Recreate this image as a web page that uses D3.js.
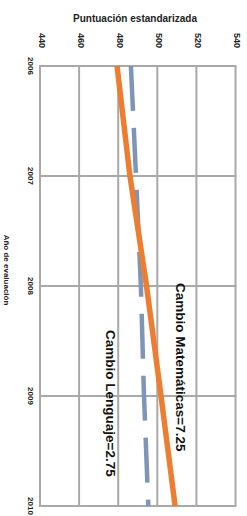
<!DOCTYPE html>
<html>
<head>
<meta charset="utf-8">
<script src="https://cdn.jsdelivr.net/npm/d3@7/dist/d3.min.js"></script>
<style>
  html, body { margin: 0; padding: 0; background: #ffffff; }
  svg { display: block; font-family: "Liberation Sans", Arial, sans-serif; }
</style>
</head>
<body>
<svg id="chart" width="247" height="516"></svg>
<script>
// ---- data ----
const years = [2006, 2007, 2008, 2009, 2010];
const matematicas = [479.4, 486.0, 494.5, 501.9, 509.1];
const lenguaje = [486.5, 489.1, 491.6, 493.2, 495.4];
const scoreTicks = [440, 460, 480, 500, 520, 540];
const yearTicks = ["2006", "2007", "2008", "2009", "2010"];
const titleScore = "Puntuación estandarizada";
const titleYear = "Año de evaluación";
const labelMat = "Cambio Matemáticas=7.25";
const labelLen = "Cambio Lenguaje=2.75";

// ---- layout (chart rotated 90° clockwise) ----
const svg = d3.select("#chart");
const plotLeft = 40, plotRight = 235.5, plotTop = 66, plotBottom = 506;

const x = d3.scaleLinear().domain([440, 540]).range([plotLeft, plotRight]);
const y = d3.scaleLinear().domain([2006, 2010]).range([plotTop, plotBottom]);

const gridColor = "#a9a9a9";

// vertical gridlines (score)
svg.append("g").selectAll("line").data(scoreTicks).join("line")
  .attr("x1", d => x(d)).attr("x2", d => x(d))
  .attr("y1", plotTop).attr("y2", plotBottom)
  .attr("stroke", gridColor).attr("stroke-width", 2);

// horizontal gridlines (years)
svg.append("g").selectAll("line").data(years).join("line")
  .attr("x1", plotLeft - 1).attr("x2", plotRight + 1)
  .attr("y1", d => y(d)).attr("y2", d => y(d))
  .attr("stroke", gridColor).attr("stroke-width", 2);

// score tick labels at top, rotated
svg.append("g").selectAll("text").data(scoreTicks).join("text")
  .attr("transform", d => `translate(${x(d) + 1.5},33) rotate(90)`)
  .attr("text-anchor", "start")
  .attr("dominant-baseline", "central")
  .attr("font-size", 9)
  .attr("font-weight", "bold")
  .attr("fill", "#222")
  .text(d => d);

// year tick labels on the left, rotated
svg.append("g").selectAll("text").data(years).join("text")
  .attr("transform", d => `translate(30,${y(d)}) rotate(90)`)
  .attr("text-anchor", "middle")
  .attr("dominant-baseline", "central")
  .attr("font-size", 8)
  .attr("font-weight", "bold")
  .attr("fill", "#222")
  .text((d, i) => yearTicks[i]);

// axis titles
svg.append("text")
  .attr("x", 135).attr("y", 18)
  .attr("text-anchor", "middle")
  .attr("dominant-baseline", "central")
  .attr("font-size", 10)
  .attr("font-weight", "bold")
  .attr("fill", "#222")
  .text(titleScore);

svg.append("text")
  .attr("transform", "translate(6,270) rotate(90)")
  .attr("text-anchor", "middle")
  .attr("dominant-baseline", "central")
  .attr("font-size", 8)
  .attr("font-weight", "bold")
  .attr("fill", "#222")
  .text(titleYear);

// lines
const line = d3.line().x(d => x(d[1])).y(d => y(d[0]));

svg.append("path")
  .datum(years.map((yr, i) => [yr, lenguaje[i]]))
  .attr("d", line)
  .attr("fill", "none")
  .attr("stroke", "#7f95b7")
  .attr("stroke-width", 4.5)
  .attr("stroke-dasharray", "45,17");

svg.append("path")
  .datum(years.map((yr, i) => [yr, matematicas[i]]))
  .attr("d", line)
  .attr("fill", "none")
  .attr("stroke", "#ed7d31")
  .attr("stroke-width", 5.5);

// annotations
svg.append("text")
  .attr("transform", "translate(180,283) rotate(90)")
  .attr("text-anchor", "start")
  .attr("dominant-baseline", "central")
  .attr("font-size", 13.5)
  .attr("font-weight", "bold")
  .attr("fill", "#111")
  .text(labelMat);

svg.append("text")
  .attr("transform", "translate(110,330) rotate(90)")
  .attr("text-anchor", "start")
  .attr("dominant-baseline", "central")
  .attr("font-size", 13.5)
  .attr("font-weight", "bold")
  .attr("fill", "#111")
  .text(labelLen);
</script>
</body>
</html>
